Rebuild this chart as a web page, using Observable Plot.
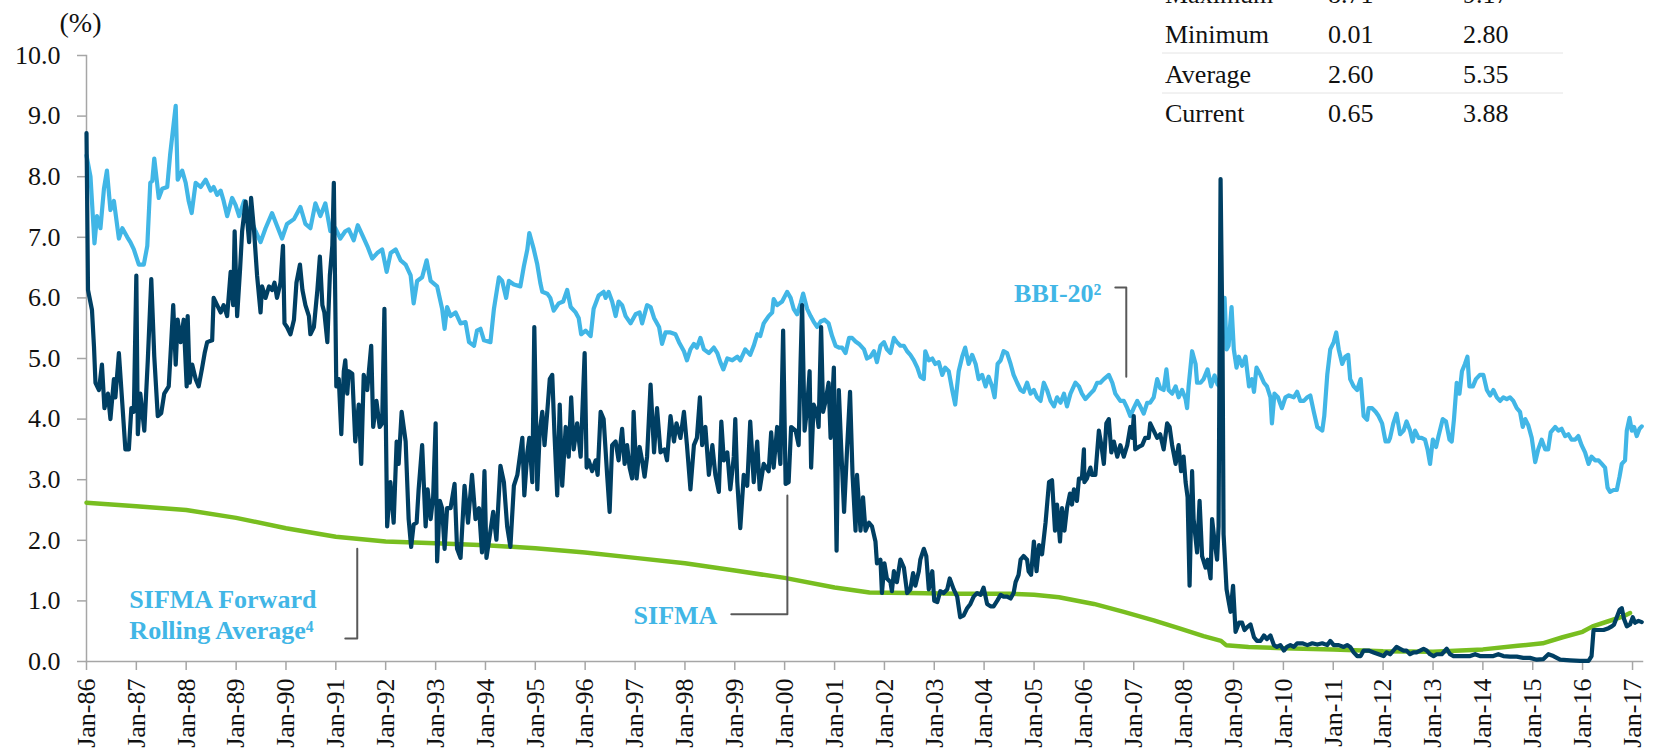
<!DOCTYPE html>
<html><head><meta charset="utf-8">
<script src="https://cdn.jsdelivr.net/npm/d3@7"></script>
<script src="https://cdn.jsdelivr.net/npm/@observablehq/plot@0.6"></script>
<style>
body{margin:0;background:#fff;}
#chart{position:relative;width:1653px;height:753px;overflow:hidden;background:#fff;}
#chart svg, #chart svg text{font-family:'Liberation Serif','Times New Roman',serif;}
</style></head><body><div id="chart"></div><script>
// ---- data: [decimal year, percent] ----
const bbi20 = [
[1986.00,8.35],[1986.08,8.0],[1986.16,6.9],[1986.21,7.35],[1986.28,7.15],[1986.35,7.8],[1986.41,8.1],[1986.48,7.45],[1986.55,7.6],[1986.65,6.98],[1986.72,7.15],[1986.82,7.0],[1986.88,6.92],[1986.95,6.8],[1987.05,6.55],[1987.15,6.55],[1987.22,6.86],[1987.28,7.9],[1987.32,7.93],[1987.36,8.3],[1987.45,7.65],[1987.52,7.8],[1987.62,7.83],[1987.68,8.38],[1987.79,9.17],[1987.83,7.95],[1987.92,8.1],[1987.99,7.9],
[1988.05,7.6],[1988.11,7.4],[1988.19,7.9],[1988.29,7.83],[1988.39,7.95],[1988.49,7.77],[1988.55,7.83],[1988.62,7.7],[1988.69,7.77],[1988.75,7.6],[1988.82,7.35],[1988.92,7.65],[1988.99,7.53],[1989.06,7.35],[1989.16,7.6],[1989.22,7.48],[1989.29,7.3],[1989.39,7.1],[1989.49,6.92],[1989.59,7.15],[1989.72,7.4],[1989.82,7.19],[1989.92,6.98],
[1990.02,7.22],[1990.16,7.3],[1990.29,7.5],[1990.39,7.22],[1990.49,7.15],[1990.59,7.56],[1990.69,7.35],[1990.79,7.56],[1990.89,7.1],[1990.99,7.15],[1991.09,6.98],[1991.19,7.1],[1991.26,7.13],[1991.36,6.95],[1991.44,7.2],[1991.53,7.04],[1991.63,6.86],[1991.73,6.65],[1991.83,6.74],[1991.93,6.8],
[1992.02,6.43],[1992.10,6.74],[1992.20,6.8],[1992.30,6.62],[1992.40,6.55],[1992.50,6.37],[1992.56,5.91],[1992.63,6.28],[1992.73,6.34],[1992.82,6.62],[1992.90,6.28],[1993.03,6.19],[1993.13,5.82],[1993.18,5.49],[1993.23,5.85],[1993.30,5.7],[1993.40,5.76],[1993.50,5.58],[1993.60,5.6],[1993.67,5.27],[1993.77,5.21],[1993.83,5.46],[1993.90,5.49],[1993.97,5.3],
[1994.10,5.27],[1994.17,5.82],[1994.27,6.34],[1994.335,6.28],[1994.415,6.0],[1994.47,6.28],[1994.57,6.22],[1994.70,6.19],[1994.77,6.52],[1994.84,6.8],[1994.88,7.07],[1994.97,6.8],[1995.04,6.55],[1995.10,6.25],[1995.14,6.1],[1995.24,6.07],[1995.30,6.0],[1995.37,5.79],[1995.47,5.91],[1995.56,5.94],[1995.64,6.13],[1995.71,5.85],[1995.81,5.76],[1995.87,5.67],[1995.92,5.4],
[1996.01,5.46],[1996.11,5.37],[1996.17,5.82],[1996.27,6.04],[1996.37,6.1],[1996.41,6.0],[1996.47,6.1],[1996.54,5.94],[1996.61,5.7],[1996.67,5.94],[1996.74,5.88],[1996.81,5.7],[1996.91,5.58],[1997.01,5.73],[1997.09,5.76],[1997.14,5.58],[1997.24,5.88],[1997.31,5.85],[1997.38,5.67],[1997.48,5.52],[1997.54,5.24],[1997.61,5.43],[1997.71,5.43],[1997.81,5.4],[1997.88,5.27],[1997.98,5.12],
[1998.04,4.97],[1998.11,5.15],[1998.18,5.24],[1998.24,5.18],[1998.31,5.34],[1998.38,5.15],[1998.48,5.09],[1998.58,5.18],[1998.65,5.09],[1998.71,4.94],[1998.77,4.82],[1998.85,5.0],[1998.95,4.97],[1999.05,5.03],[1999.11,4.97],[1999.21,5.15],[1999.31,5.06],[1999.38,5.21],[1999.45,5.4],[1999.51,5.37],[1999.58,5.58],[1999.68,5.7],[1999.75,5.76],[1999.78,5.98],[1999.85,5.88],[1999.95,5.94],
[2000.05,6.1],[2000.12,6.0],[2000.18,5.82],[2000.25,5.73],[2000.32,5.91],[2000.37,6.07],[2000.45,5.82],[2000.52,5.7],[2000.58,5.61],[2000.65,5.52],[2000.72,5.61],[2000.80,5.64],[2000.88,5.58],[2000.95,5.37],[2001.02,5.21],[2001.09,5.18],[2001.15,5.18],[2001.22,5.09],[2001.29,5.34],[2001.35,5.34],[2001.42,5.28],[2001.49,5.24],[2001.59,5.15],[2001.65,5.0],[2001.72,5.03],[2001.79,5.12],[2001.85,4.94],[2001.92,5.21],[2001.99,5.27],
[2002.05,5.15],[2002.12,5.09],[2002.19,5.34],[2002.25,5.27],[2002.32,5.21],[2002.39,5.21],[2002.455,5.12],[2002.52,5.06],[2002.59,4.97],[2002.66,4.85],[2002.72,4.7],[2002.79,4.66],[2002.82,5.12],[2002.89,4.97],[2002.96,5.0],[2003.02,4.91],[2003.09,4.94],[2003.16,4.73],[2003.22,4.85],[2003.29,4.79],[2003.36,4.48],[2003.42,4.24],[2003.49,4.79],[2003.56,5.03],[2003.62,5.18],[2003.69,4.91],[2003.76,5.06],[2003.83,4.91],[2003.89,4.66],[2003.96,4.73],
[2004.03,4.54],[2004.09,4.7],[2004.16,4.54],[2004.21,4.36],[2004.27,4.91],[2004.33,4.97],[2004.39,5.12],[2004.46,5.09],[2004.53,4.91],[2004.59,4.73],[2004.66,4.6],[2004.73,4.48],[2004.79,4.45],[2004.86,4.6],[2004.93,4.42],[2004.996,4.48],[2005.06,4.36],[2005.13,4.3],[2005.196,4.6],[2005.26,4.48],[2005.33,4.3],[2005.40,4.21],[2005.46,4.36],[2005.53,4.27],[2005.60,4.42],[2005.66,4.21],[2005.73,4.42],[2005.83,4.6],[2005.90,4.54],[2005.96,4.42],
[2006.03,4.33],[2006.13,4.42],[2006.20,4.48],[2006.265,4.6],[2006.33,4.6],[2006.40,4.66],[2006.50,4.73],[2006.57,4.6],[2006.63,4.42],[2006.73,4.3],[2006.80,4.3],[2006.87,4.18],[2006.93,4.05],[2007.0,4.18],[2007.07,4.3],[2007.13,4.21],[2007.20,4.09],[2007.27,4.27],[2007.33,4.27],[2007.40,4.36],[2007.47,4.66],[2007.53,4.51],[2007.60,4.48],[2007.655,4.82],[2007.70,4.48],[2007.77,4.42],[2007.84,4.54],[2007.90,4.36],[2007.97,4.48],
[2008.04,4.33],[2008.07,4.18],[2008.10,4.54],[2008.17,5.12],[2008.24,4.91],[2008.27,4.6],[2008.34,4.6],[2008.40,4.66],[2008.48,4.82],[2008.55,4.54],[2008.62,4.72],[2008.68,4.57],[2008.72,4.54],[2008.77,5.46],[2008.82,6.0],[2008.86,5.15],[2008.90,5.21],[2008.96,5.85],[2009.005,5.15],[2009.06,4.85],[2009.105,5.03],[2009.17,4.88],[2009.24,5.03],[2009.31,4.54],[2009.37,4.66],[2009.41,4.45],[2009.46,4.85],[2009.54,4.73],[2009.61,4.6],[2009.67,4.54],[2009.74,4.36],[2009.77,3.93],[2009.82,4.42],[2009.89,4.36],[2009.97,4.18],
[2010.04,4.36],[2010.11,4.39],[2010.21,4.36],[2010.275,4.45],[2010.34,4.3],[2010.41,4.3],[2010.48,4.36],[2010.54,4.39],[2010.61,4.12],[2010.68,3.87],[2010.78,3.81],[2010.82,4.05],[2010.88,4.73],[2010.94,5.15],[2011.01,5.27],[2011.06,5.43],[2011.11,5.15],[2011.18,4.91],[2011.24,5.03],[2011.30,5.06],[2011.34,4.66],[2011.41,4.54],[2011.48,4.48],[2011.55,4.66],[2011.61,4.05],[2011.68,3.99],[2011.71,4.18],[2011.78,4.18],[2011.85,4.12],[2011.91,4.05],[2011.98,3.93],
[2012.05,3.63],[2012.11,3.63],[2012.14,3.69],[2012.205,3.93],[2012.27,4.09],[2012.34,3.75],[2012.41,3.81],[2012.47,3.96],[2012.54,3.81],[2012.59,3.63],[2012.64,3.81],[2012.71,3.69],[2012.77,3.69],[2012.84,3.66],[2012.89,3.5],[2012.94,3.26],[2012.995,3.66],[2013.06,3.54],[2013.11,3.72],[2013.195,4.0],[2013.26,3.96],[2013.33,3.66],[2013.375,3.63],[2013.42,4.0],[2013.475,4.6],[2013.53,4.42],[2013.58,4.79],[2013.64,4.91],[2013.69,5.03],[2013.73,4.54],[2013.80,4.54],[2013.86,4.66],[2013.94,4.73],
[2014.01,4.73],[2014.08,4.48],[2014.145,4.39],[2014.21,4.48],[2014.28,4.36],[2014.345,4.3],[2014.41,4.36],[2014.48,4.33],[2014.545,4.36],[2014.61,4.3],[2014.68,4.18],[2014.745,4.12],[2014.80,3.87],[2014.85,4.0],[2014.91,3.9],[2014.98,3.69],[2015.05,3.29],[2015.11,3.5],[2015.18,3.66],[2015.25,3.5],[2015.31,3.5],[2015.36,3.78],[2015.45,3.87],[2015.515,3.81],[2015.58,3.84],[2015.65,3.72],[2015.715,3.75],[2015.78,3.66],[2015.85,3.66],[2015.915,3.72],[2015.98,3.57],
[2016.05,3.45],[2016.12,3.26],[2016.18,3.38],[2016.25,3.32],[2016.32,3.32],[2016.385,3.26],[2016.45,3.2],[2016.50,2.87],[2016.55,2.8],[2016.62,2.83],[2016.685,2.83],[2016.74,3.05],[2016.785,3.26],[2016.85,3.32],[2016.885,3.81],[2016.94,4.02],[2016.985,3.81],[2017.03,3.87],[2017.085,3.72],[2017.14,3.84],[2017.185,3.88]
];

const sifma = [
[1986.00,8.72],[1986.03,6.13],[1986.11,5.8],[1986.15,5.2],[1986.18,4.6],[1986.25,4.48],[1986.31,4.9],[1986.36,4.18],[1986.43,4.42],[1986.48,4.0],[1986.55,4.66],[1986.58,4.36],[1986.65,5.09],[1986.72,4.24],[1986.78,3.5],[1986.85,3.5],[1986.90,4.18],[1986.95,4.12],
[1987.00,6.37],[1987.03,3.75],[1987.08,4.42],[1987.16,3.81],[1987.23,4.97],[1987.30,6.31],[1987.36,5.03],[1987.43,4.05],[1987.50,4.1],[1987.56,4.42],[1987.65,4.54],[1987.70,5.27],[1987.74,5.88],[1987.79,4.9],[1987.83,5.64],[1987.89,5.27],[1987.95,5.64],
[1988.01,4.54],[1988.03,5.7],[1988.07,4.6],[1988.12,4.9],[1988.19,4.66],[1988.25,4.54],[1988.32,4.85],[1988.37,5.09],[1988.42,5.27],[1988.52,5.3],[1988.55,6.0],[1988.62,5.88],[1988.69,5.76],[1988.75,5.88],[1988.82,5.7],[1988.89,6.43],[1988.94,5.88],[1988.97,7.1],
[1989.02,5.7],[1989.08,6.49],[1989.12,7.1],[1989.19,7.59],[1989.26,6.92],[1989.30,7.65],[1989.36,7.1],[1989.42,6.37],[1989.49,5.76],[1989.52,6.19],[1989.59,6.0],[1989.66,6.19],[1989.72,6.13],[1989.77,6.25],[1989.82,6.0],[1989.89,6.25],[1989.94,6.86],[1989.97,5.58],
[1990.02,5.52],[1990.09,5.4],[1990.16,5.64],[1990.21,6.25],[1990.28,6.55],[1990.33,6.13],[1990.39,5.88],[1990.46,5.7],[1990.49,5.4],[1990.56,5.52],[1990.63,6.13],[1990.68,6.68],[1990.73,5.88],[1990.77,5.76],[1990.83,5.27],[1990.88,6.37],[1990.93,6.86],[1990.96,7.9],
[1991.01,4.54],[1991.06,4.66],[1991.11,3.75],[1991.16,4.79],[1991.19,4.97],[1991.23,4.42],[1991.26,4.79],[1991.33,4.75],[1991.39,3.63],[1991.46,4.24],[1991.51,3.26],[1991.56,4.73],[1991.63,4.48],[1991.71,5.21],[1991.75,3.87],[1991.815,4.3],[1991.88,3.87],[1991.93,3.93],[1991.975,5.82],
[1992.03,2.23],[1992.095,2.96],[1992.16,2.29],[1992.22,3.63],[1992.26,3.26],[1992.32,4.12],[1992.40,3.63],[1992.46,2.35],[1992.51,1.89],[1992.56,2.26],[1992.62,2.29],[1992.66,2.84],[1992.73,3.57],[1992.80,2.23],[1992.84,2.84],[1992.90,2.35],[1992.95,2.71],
[1993.00,3.93],[1993.03,1.65],[1993.085,2.65],[1993.13,2.53],[1993.18,1.86],[1993.23,2.53],[1993.30,2.53],[1993.38,2.93],[1993.43,1.86],[1993.50,1.71],[1993.58,2.9],[1993.65,2.29],[1993.73,3.08],[1993.80,2.35],[1993.87,2.53],[1993.93,1.8],[1993.98,3.14],
[1994.02,1.71],[1994.09,2.1],[1994.155,2.47],[1994.22,2.01],[1994.30,3.23],[1994.37,2.96],[1994.435,2.23],[1994.50,1.89],[1994.57,2.9],[1994.64,3.08],[1994.74,3.69],[1994.78,2.74],[1994.84,3.45],[1994.88,3.69],[1994.94,2.96],[1994.98,5.52],
[1995.04,2.84],[1995.09,3.81],[1995.14,4.12],[1995.185,3.57],[1995.24,4.12],[1995.29,4.66],[1995.34,4.73],[1995.385,3.75],[1995.44,2.74],[1995.49,4.24],[1995.54,2.9],[1995.61,3.87],[1995.67,3.38],[1995.72,4.36],[1995.77,3.5],[1995.84,3.93],[1995.91,3.38],[1995.99,5.09],
[1996.03,3.2],[1996.07,3.32],[1996.14,3.14],[1996.21,3.32],[1996.25,3.08],[1996.31,4.12],[1996.37,4.0],[1996.44,3.08],[1996.49,2.47],[1996.54,3.57],[1996.61,3.63],[1996.67,3.32],[1996.74,3.84],[1996.79,3.26],[1996.84,3.57],[1996.89,3.2],[1996.94,3.02],[1996.97,4.12],
[1997.03,3.02],[1997.09,3.54],[1997.14,3.32],[1997.19,3.05],[1997.24,3.38],[1997.31,4.57],[1997.38,3.45],[1997.44,4.18],[1997.51,3.45],[1997.59,3.5],[1997.64,3.32],[1997.71,4.05],[1997.78,3.63],[1997.83,3.93],[1997.91,3.69],[1997.98,4.12],
[1998.04,3.57],[1998.11,2.84],[1998.18,3.57],[1998.24,3.69],[1998.30,4.36],[1998.345,3.57],[1998.41,3.87],[1998.48,3.08],[1998.55,3.57],[1998.61,3.08],[1998.68,2.8],[1998.73,3.96],[1998.78,3.32],[1998.85,3.45],[1998.91,2.84],[1998.98,3.38],
[1999.01,4.0],[1999.05,2.96],[1999.11,2.2],[1999.18,3.08],[1999.25,2.9],[1999.31,3.96],[1999.38,2.96],[1999.45,3.63],[1999.50,2.84],[1999.58,3.26],[1999.68,3.14],[1999.73,3.78],[1999.78,3.2],[1999.85,3.87],[1999.915,3.26],[1999.97,5.46],
[2000.02,2.93],[2000.08,2.96],[2000.13,3.87],[2000.22,3.81],[2000.28,3.57],[2000.32,4.97],[2000.35,5.88],[2000.40,3.81],[2000.45,4.18],[2000.50,4.79],[2000.53,3.2],[2000.58,4.24],[2000.64,4.12],[2000.68,3.87],[2000.73,5.52],[2000.77,4.12],[2000.82,4.3],[2000.88,4.6],[2000.92,3.69],[2000.985,4.85],
[2001.04,1.83],[2001.085,4.48],[2001.13,3.57],[2001.19,2.47],[2001.25,3.5],[2001.31,4.45],[2001.36,3.08],[2001.42,2.16],[2001.45,3.08],[2001.52,2.16],[2001.57,2.71],[2001.62,2.16],[2001.69,2.29],[2001.75,2.23],[2001.82,1.98],[2001.85,1.62],[2001.92,1.68],[2001.95,1.13],
[2002.00,1.62],[2002.05,1.37],[2002.12,1.31],[2002.15,1.16],[2002.19,1.49],[2002.25,1.31],[2002.32,1.68],[2002.39,1.55],[2002.455,1.13],[2002.52,1.19],[2002.575,1.46],[2002.62,1.25],[2002.69,1.49],[2002.72,1.68],[2002.79,1.86],[2002.84,1.74],[2002.89,1.19],[2002.96,1.49],
[2003.00,1.0],[2003.06,0.98],[2003.12,1.16],[2003.19,1.13],[2003.26,1.19],[2003.31,1.37],[2003.39,1.19],[2003.46,1.07],[2003.52,0.73],[2003.59,0.76],[2003.66,0.88],[2003.725,0.95],[2003.79,1.07],[2003.86,1.13],[2003.93,1.1],[2003.99,1.22],
[2004.06,0.95],[2004.13,0.91],[2004.19,0.91],[2004.26,1.0],[2004.33,1.1],[2004.39,1.07],[2004.46,1.07],[2004.53,1.04],[2004.59,1.13],[2004.63,1.31],[2004.69,1.43],[2004.73,1.68],[2004.79,1.74],[2004.86,1.68],[2004.89,1.49],[2004.94,1.43],[2004.996,1.98],
[2005.05,1.49],[2005.10,1.92],[2005.16,1.77],[2005.23,2.29],[2005.30,2.96],[2005.36,2.99],[2005.42,2.16],[2005.46,2.59],[2005.52,1.98],[2005.56,2.53],[2005.61,2.16],[2005.66,2.53],[2005.72,2.77],[2005.76,2.59],[2005.80,2.84],[2005.86,2.65],[2005.90,3.02],[2005.96,3.02],
[2006.00,3.5],[2006.01,2.96],[2006.06,3.02],[2006.13,3.2],[2006.16,3.08],[2006.23,3.08],[2006.30,3.81],[2006.35,3.57],[2006.40,3.26],[2006.45,3.93],[2006.50,4.0],[2006.55,3.45],[2006.60,3.63],[2006.67,3.38],[2006.73,3.57],[2006.80,3.38],[2006.87,3.57],[2006.93,3.87],[2006.97,3.69],
[2007.00,4.05],[2007.03,3.5],[2007.10,3.54],[2007.17,3.57],[2007.23,3.69],[2007.30,3.69],[2007.33,3.93],[2007.40,3.81],[2007.47,3.69],[2007.53,3.75],[2007.60,3.5],[2007.67,3.93],[2007.72,3.87],[2007.77,3.57],[2007.84,3.26],[2007.90,3.57],[2007.95,3.14],
[2008.00,3.38],[2008.04,2.96],[2008.08,2.71],[2008.12,1.25],[2008.17,3.14],[2008.20,2.35],[2008.27,1.8],[2008.32,2.65],[2008.37,1.74],[2008.44,1.55],[2008.48,1.68],[2008.54,1.37],[2008.57,2.35],[2008.62,1.98],[2008.67,1.68],[2008.70,2.23],[2008.74,7.96],[2008.78,5.15],[2008.80,2.1],[2008.86,1.19],[2008.90,1.0],[2008.94,0.82],[2008.99,1.25],
[2009.04,0.49],[2009.11,0.64],[2009.17,0.64],[2009.22,0.52],[2009.29,0.58],[2009.34,0.61],[2009.41,0.4],[2009.47,0.34],[2009.54,0.34],[2009.61,0.43],[2009.67,0.37],[2009.74,0.43],[2009.81,0.27],[2009.87,0.24],[2009.94,0.27],
[2010.01,0.18],[2010.07,0.24],[2010.14,0.27],[2010.21,0.24],[2010.275,0.3],[2010.38,0.3],[2010.48,0.27],[2010.58,0.3],[2010.68,0.28],[2010.78,0.3],[2010.88,0.27],[2010.94,0.34],[2011.01,0.27],[2011.11,0.27],[2011.21,0.24],[2011.28,0.27],[2011.34,0.24],[2011.41,0.15],[2011.48,0.09],[2011.55,0.09],[2011.61,0.18],[2011.71,0.18],[2011.81,0.15],[2011.91,0.12],
[2012.01,0.09],[2012.07,0.15],[2012.14,0.12],[2012.205,0.18],[2012.27,0.24],[2012.34,0.21],[2012.41,0.18],[2012.47,0.18],[2012.54,0.12],[2012.61,0.15],[2012.67,0.15],[2012.74,0.18],[2012.81,0.21],[2012.875,0.18],[2012.94,0.12],
[2013.01,0.09],[2013.075,0.12],[2013.175,0.12],[2013.275,0.21],[2013.34,0.12],[2013.41,0.09],[2013.61,0.09],[2013.745,0.09],[2013.845,0.12],[2013.94,0.09],[2014.08,0.09],[2014.21,0.09],[2014.31,0.12],[2014.41,0.09],[2014.545,0.08],[2014.68,0.08],[2014.81,0.06],[2014.945,0.06],
[2015.08,0.03],[2015.215,0.04],[2015.315,0.12],[2015.415,0.09],[2015.55,0.03],[2015.75,0.02],[2015.95,0.01],[2016.12,0.01],[2016.18,0.09],[2016.22,0.52],[2016.32,0.52],[2016.42,0.52],[2016.52,0.55],[2016.585,0.58],[2016.63,0.61],[2016.685,0.73],[2016.74,0.85],[2016.785,0.88],[2016.83,0.7],[2016.885,0.58],[2016.95,0.61],[2017.005,0.73],[2017.05,0.64],[2017.12,0.67],[2017.185,0.65]
];

const sifmaForwardAvg = [
[1986.0,2.62],[1987.0,2.56],[1988.0,2.5],[1989.0,2.37],[1990.0,2.2],[1991.0,2.06],[1992.0,1.98],[1993.0,1.95],[1994.0,1.92],[1995.0,1.87],[1996.0,1.8],[1997.0,1.71],[1998.0,1.62],[1999.0,1.5],[2000.0,1.38],[2001.0,1.22],[2001.7,1.14],[2002.5,1.13],[2003.5,1.12],[2004.5,1.12],[2005.0,1.1],[2005.5,1.06],[2006.2,0.95],[2006.8,0.82],[2007.4,0.68],[2007.9,0.55],[2008.4,0.42],[2008.75,0.34],[2008.85,0.27],[2009.3,0.24],[2010.0,0.22],[2011.0,0.2],[2012.0,0.17],[2013.0,0.16],[2014.0,0.2],[2014.7,0.26],[2015.2,0.3],[2015.6,0.4],[2016.0,0.49],[2016.2,0.58],[2016.5,0.66],[2016.8,0.74],[2016.95,0.8]
];

const yTicks = [0,1,2,3,4,5,6,7,8,9,10];
const tickYears = d3.range(1986, 2018);
const statLabels = ["Maximum","Minimum","Average","Current"];
const sifmaStats = ["8.71","0.01","2.60","0.65"];
const bbiStats = ["9.17","2.80","5.35","3.88"];

// ---- helpers ----
const toDate = t => { const y = Math.floor(t); const s = Date.UTC(y,0,1), e = Date.UTC(y+1,0,1); return new Date(s + (t - y) * (e - s)); };
const rows = arr => arr.map(([t, v]) => ({date: toDate(t), value: v}));

const C_LIGHT = "#41b6e6", C_NAVY = "#003f63", C_GREEN = "#78be20", C_LEAD = "#595959", C_AXIS = "#a6a6a6";
const FONT = "'Liberation Serif', 'Times New Roman', serif";

// annotation anchors (data coordinates)
const endLabels = [
  {date: toDate(2006.35), value: 6.07, text: "BBI-20\u00b2"},
  {date: toDate(1998.65), value: 0.76, text: "SIFMA"}
];
const startLabels = [
  {date: toDate(1986.86), value: 0.79, text: "SIFMA Forward\nRolling Average\u2074"}
];
const leaders = [
  rows([[2006.63,6.17],[2006.85,6.17],[2006.85,4.70]]),
  rows([[1998.93,0.78],[2000.055,0.78],[2000.055,2.74]]),
  rows([[1991.19,0.38],[1991.43,0.38],[1991.43,1.86]])
];

const chart = Plot.plot({
  width: 1653, height: 753,
  marginLeft: 86, marginTop: 55, marginBottom: 92, marginRight: 11,
  style: {fontFamily: FONT, fontSize: "26px", color: "#111", background: "#fff", overflow: "visible"},
  x: {type: "utc", domain: [toDate(1986), toDate(2017.2)]},
  y: {domain: [0, 10]},
  marks: [
    Plot.frame({anchor: "left", stroke: C_AXIS, strokeWidth: 1.5}),
    Plot.frame({anchor: "bottom", stroke: C_AXIS, strokeWidth: 1.5}),
    Plot.axisY({ticks: yTicks, tickFormat: d => d.toFixed(1), tickSize: 9, tickPadding: 17, stroke: C_AXIS, strokeWidth: 1.5, fill: "#111", fontFamily: FONT, fontSize: 26, label: null}),
    Plot.axisX({ticks: tickYears.map(y => toDate(y)), tickFormat: d3.utcFormat("%b-%y"), tickRotate: -90, tickSize: 9, tickPadding: 8, stroke: C_AXIS, strokeWidth: 1.5, fill: "#111", fontFamily: FONT, fontSize: 26, label: null}),
    Plot.text(["(%)"], {frameAnchor: "top-left", dx: -27, dy: -32, textAnchor: "start", lineAnchor: "middle", fill: "#111", fontFamily: FONT, fontSize: 28}),
    Plot.line(rows(sifmaForwardAvg), {x: "date", y: "value", stroke: C_GREEN, strokeWidth: 4.5}),
    Plot.line(rows(bbi20), {x: "date", y: "value", stroke: C_LIGHT, strokeWidth: 4.2}),
    Plot.line(rows(sifma), {x: "date", y: "value", stroke: C_NAVY, strokeWidth: 4.2}),
    ...leaders.map(l => Plot.line(l, {x: "date", y: "value", stroke: C_LEAD, strokeWidth: 2})),
    Plot.text(endLabels, {x: "date", y: "value", text: "text", textAnchor: "end", fill: C_LIGHT, fontWeight: "bold", fontFamily: FONT, fontSize: 26, lineAnchor: "middle"}),
    Plot.text(startLabels, {x: "date", y: "value", text: "text", textAnchor: "start", fill: C_LIGHT, fontWeight: "bold", fontFamily: FONT, fontSize: 26, lineHeight: 1.19, lineAnchor: "middle"})
  ]
});

document.getElementById("chart").appendChild(chart);

// statistics table overlay (top right)
const svg = d3.select(chart);
const tbl = svg.append("g").attr("font-family", FONT).attr("font-size", 26).attr("fill", "#111").attr("text-anchor", "start");
const colX = [1165, 1328, 1463];
const rowY = [3, 43, 83, 122];
[53, 93].forEach(y => tbl.append("line").attr("x1", 1162).attr("x2", 1563).attr("y1", y).attr("y2", y).attr("stroke", "#e4e4e4").attr("stroke-width", 1));
statLabels.forEach((lab, i) => {
  [lab, sifmaStats[i], bbiStats[i]].forEach((s, j) => {
    tbl.append("text").attr("x", colX[j]).attr("y", rowY[i]).attr("text-anchor", "start").text(s);
  });
});
</script></body></html>
